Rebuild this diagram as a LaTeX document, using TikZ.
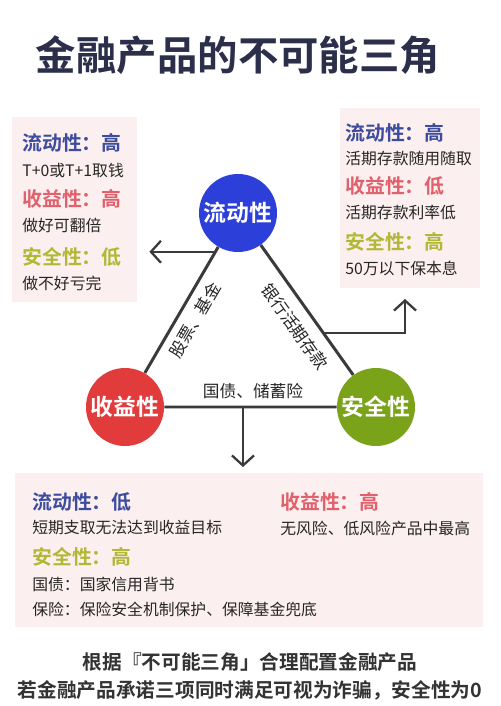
\documentclass[tikz,border=0pt]{standalone}
\usepackage{fontspec}
\setmainfont{Noto Sans CJK SC}[BoldFont={Noto Sans CJK SC Bold}]
\usepackage{xcolor}
\usepackage{tikz}
\usetikzlibrary{arrows.meta,calc}
\definecolor{titleblue}{HTML}{2B2F4A}
\definecolor{liublue}{HTML}{2C3FD8}
\definecolor{shoured}{HTML}{E23B3B}
\definecolor{angreen}{HTML}{7AA319}
\definecolor{hblue}{HTML}{3D4C9C}
\definecolor{hred}{HTML}{E0616C}
\definecolor{hgreen}{HTML}{B2B836}
\definecolor{cardpink}{HTML}{FCEFEF}
\definecolor{linegray}{HTML}{3A3A3A}
\begin{document}
\begin{tikzpicture}[x=0.02cm,y=-0.02cm,
ball/.style={circle,minimum size=1.56cm,inner sep=0pt,text=white,font=\bfseries\fontsize{13}{13}\selectfont},
head/.style={anchor=west,inner sep=0pt,font=\bfseries\fontsize{11.3}{12}\selectfont},
txt/.style={anchor=west,inner sep=0pt,text=black!85,font=\fontsize{9}{10}\selectfont},
lbl/.style={inner sep=0pt,text=black!85,font=\fontsize{9.5}{10}\selectfont},
triline/.style={line width=1.7pt,draw=linegray},
outarrow/.style={line width=1.3pt,draw=linegray,-{Straight Barb[length=2mm,width=4.4mm]}}]
\fill[white](0,0)rectangle(500,706);
\useasboundingbox(0,0)rectangle(500,706);
\node[text=titleblue,font=\bfseries\fontsize{23}{23}\selectfont](title)at(238,55){金融产品的不可能三角};
% cards
\fill[cardpink](12,117)rectangle(137,302);
\fill[cardpink](340,108)rectangle(480,288);
\fill[cardpink](15,473)rectangle(483,627);
% triangle
\node[ball,fill=liublue](liu)at(238,213){流动性};
\node[ball,fill=shoured](shou)at(125,407){收益性};
\node[ball,fill=angreen](an)at(376,407){安全性};
\draw[triline](liu)--(shou) (liu)--(an) (shou)--(an);
\node[lbl,rotate=59.8](gupiao)at(195,320){股票、基金};
\node[lbl,rotate=-54.6](yinhang)at(295,327){银行活期存款};
\node[lbl](guozhai)at(253,391){国债、储蓄险};
\coordinate(pl)at($(liu)!0.2!(shou)$);
\coordinate(pr)at($(liu)!0.62!(an)$);
\coordinate(pb)at($(shou)!0.47!(an)$);
\draw[outarrow](pl)--++(-66,0);
\draw[outarrow](pr)-|(405,299);
\draw[outarrow](pb)--++(0,60);
% left card
\node[head,text=hblue](l1)at(22,143){流动性：高};
\node[txt](l2)at(22,170){T+0或T+1取钱};
\node[head,text=hred](l3)at(22,199){收益性：高};
\node[txt](l4)at(22,225){做好可翻倍};
\node[head,text=hgreen](l5)at(22,257){安全性：低};
\node[txt](l6)at(22,283){做不好亏完};
% right card
\node[head,text=hblue](r1)at(345,133){流动性：高};
\node[txt](r2)at(345,159){活期存款随用随取};
\node[head,text=hred](r3)at(345,186){收益性：低};
\node[txt](r4)at(345,212){活期存款利率低};
\node[head,text=hgreen](r5)at(345,242){安全性：高};
\node[txt](r6)at(345,268){50万以下保本息};
% bottom card
\node[head,text=hblue](b1)at(32,502){流动性：低};
\node[txt](b2)at(32,528){短期支取无法达到收益目标};
\node[head,text=hred](b3)at(280,502){收益性：高};
\node[txt](b4)at(280,528){无风险、低风险产品中最高};
\node[head,text=hgreen](b5)at(32,557){安全性：高};
\node[txt](b6)at(32,584){国债：国家信用背书};
\node[txt](b7)at(32,609){保险：保险安全机制保护、保障基金兜底};
\node[text=black!80,font=\bfseries\fontsize{11.2}{12}\selectfont](note1)at(250,662){根据『不可能三角」合理配置金融产品};
\node[text=black!80,font=\bfseries\fontsize{11.2}{12}\selectfont](note2)at(250,690){若金融产品承诺三项同时满足可视为诈骗，安全性为0};
\end{tikzpicture}
\end{document}
